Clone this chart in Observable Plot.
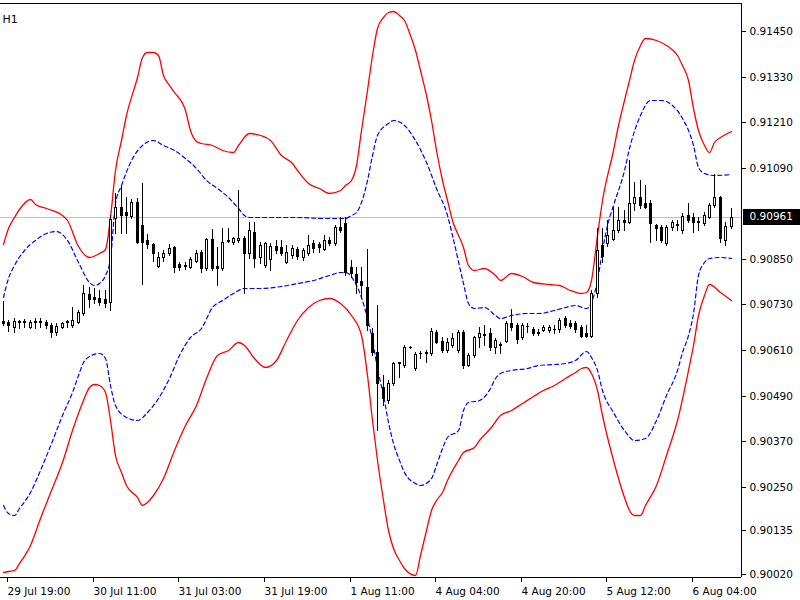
<!DOCTYPE html>
<html><head><meta charset="utf-8">
<script src="https://cdn.jsdelivr.net/npm/d3@7"></script>
<script src="https://cdn.jsdelivr.net/npm/@observablehq/plot@0.6"></script>
<style>
html,body{margin:0;padding:0;background:#fff;}
#chart svg{display:block;}
</style></head><body><div id="chart"></div>
<script>
// H1 candles, bar index 0 = 29 Jul 18:00
const open = [0.90686,0.90684,0.90671,0.90684,0.90684,0.90671,0.90684,0.90686,0.90684,0.90676,0.90657,0.90671,0.90684,0.90676,0.90684,0.90707,0.90757,0.90750,0.90747,0.90744,0.90736,0.90958,0.90987,0.90973,0.90963,0.91000,0.90939,0.90900,0.90889,0.90831,0.90855,0.90865,0.90881,0.90836,0.90834,0.90828,0.90844,0.90868,0.90826,0.90902,0.90831,0.90826,0.90897,0.90894,0.90900,0.90905,0.90865,0.90921,0.90855,0.90834,0.90850,0.90884,0.90881,0.90842,0.90860,0.90876,0.90855,0.90865,0.90892,0.90889,0.90876,0.90900,0.90892,0.90934,0.90944,0.90828,0.90810,0.90792,0.90776,0.90655,0.90605,0.90512,0.90478,0.90523,0.90576,0.90570,0.90618,0.90563,0.90602,0.90602,0.90602,0.90657,0.90634,0.90610,0.90623,0.90610,0.90657,0.90570,0.90597,0.90644,0.90649,0.90655,0.90618,0.90623,0.90634,0.90681,0.90676,0.90644,0.90673,0.90665,0.90657,0.90663,0.90663,0.90665,0.90665,0.90694,0.90681,0.90681,0.90671,0.90655,0.90647,0.90760,0.90886,0.90892,0.90902,0.90926,0.90952,0.90947,0.90997,0.91013,0.90997,0.90997,0.90939,0.90934,0.90892,0.90934,0.90939,0.90926,0.90965,0.90960,0.90947,0.90944,0.90960,0.90992,0.91013,0.90900,0.90936];
const high = [0.90739,0.90689,0.90694,0.90689,0.90692,0.90689,0.90694,0.90694,0.90689,0.90681,0.90681,0.90684,0.90689,0.90723,0.90715,0.90781,0.90776,0.90773,0.90768,0.90768,0.90965,0.91023,0.91042,0.91013,0.91008,0.91010,0.91050,0.90915,0.90892,0.90868,0.90873,0.90889,0.90884,0.90842,0.90842,0.90855,0.90873,0.90873,0.90905,0.90929,0.90881,0.90931,0.90931,0.90908,0.91031,0.90910,0.90947,0.90947,0.90894,0.90894,0.90892,0.90900,0.90900,0.90886,0.90886,0.90881,0.90879,0.90913,0.90900,0.90894,0.90913,0.90908,0.90939,0.90960,0.90960,0.90847,0.90828,0.90828,0.90876,0.90668,0.90728,0.90544,0.90531,0.90578,0.90578,0.90623,0.90620,0.90605,0.90607,0.90610,0.90668,0.90663,0.90644,0.90641,0.90655,0.90663,0.90663,0.90602,0.90647,0.90671,0.90676,0.90668,0.90641,0.90631,0.90686,0.90718,0.90681,0.90681,0.90681,0.90671,0.90665,0.90676,0.90676,0.90676,0.90694,0.90699,0.90689,0.90686,0.90676,0.90676,0.90768,0.90931,0.90931,0.90952,0.90987,0.90987,0.90979,0.91110,0.91052,0.91058,0.91044,0.91005,0.90942,0.90939,0.90939,0.90952,0.90952,0.90971,0.90997,0.90971,0.90960,0.90973,0.90997,0.91073,0.91015,0.90947,0.90984];
const low = [0.90676,0.90660,0.90657,0.90668,0.90671,0.90668,0.90668,0.90671,0.90668,0.90644,0.90649,0.90668,0.90671,0.90671,0.90681,0.90702,0.90723,0.90734,0.90728,0.90723,0.90715,0.90918,0.90918,0.90918,0.90958,0.90892,0.90784,0.90879,0.90844,0.90828,0.90844,0.90860,0.90815,0.90821,0.90823,0.90826,0.90842,0.90815,0.90821,0.90821,0.90781,0.90821,0.90894,0.90889,0.90894,0.90760,0.90852,0.90828,0.90839,0.90828,0.90821,0.90865,0.90860,0.90839,0.90852,0.90850,0.90847,0.90860,0.90868,0.90868,0.90873,0.90886,0.90886,0.90921,0.90807,0.90802,0.90760,0.90747,0.90663,0.90597,0.90399,0.90465,0.90470,0.90518,0.90539,0.90565,0.90615,0.90557,0.90589,0.90578,0.90597,0.90628,0.90605,0.90605,0.90618,0.90605,0.90563,0.90568,0.90591,0.90618,0.90623,0.90610,0.90602,0.90602,0.90631,0.90663,0.90628,0.90639,0.90657,0.90649,0.90649,0.90660,0.90657,0.90655,0.90657,0.90671,0.90668,0.90657,0.90644,0.90644,0.90644,0.90750,0.90842,0.90884,0.90900,0.90921,0.90926,0.90944,0.90979,0.90984,0.90984,0.90894,0.90900,0.90894,0.90886,0.90926,0.90926,0.90918,0.90947,0.90921,0.90926,0.90939,0.90958,0.90987,0.90894,0.90886,0.90931];
const close = [0.90681,0.90676,0.90686,0.90686,0.90686,0.90684,0.90686,0.90684,0.90676,0.90657,0.90673,0.90681,0.90686,0.90689,0.90710,0.90760,0.90744,0.90744,0.90736,0.90734,0.90955,0.90987,0.90965,0.90965,0.91000,0.90894,0.90894,0.90889,0.90865,0.90855,0.90865,0.90879,0.90828,0.90828,0.90831,0.90850,0.90865,0.90826,0.90902,0.90826,0.90826,0.90894,0.90900,0.90905,0.90905,0.90865,0.90926,0.90852,0.90886,0.90892,0.90884,0.90873,0.90865,0.90868,0.90879,0.90857,0.90873,0.90886,0.90879,0.90881,0.90900,0.90892,0.90934,0.90926,0.90815,0.90813,0.90789,0.90781,0.90676,0.90605,0.90523,0.90484,0.90523,0.90576,0.90578,0.90618,0.90617,0.90599,0.90602,0.90605,0.90660,0.90631,0.90610,0.90631,0.90641,0.90657,0.90570,0.90597,0.90644,0.90655,0.90652,0.90618,0.90636,0.90626,0.90681,0.90671,0.90639,0.90676,0.90674,0.90655,0.90656,0.90671,0.90671,0.90666,0.90689,0.90676,0.90673,0.90665,0.90647,0.90647,0.90760,0.90873,0.90857,0.90913,0.90926,0.90952,0.90947,0.90997,0.91013,0.90992,0.90987,0.90944,0.90931,0.90900,0.90934,0.90947,0.90942,0.90963,0.90952,0.90947,0.90950,0.90965,0.90992,0.91013,0.90905,0.90936,0.90961];

// Envelope lines read at selected bars
const redUpperBar = [0,1,2,3,5,6,8,11,12,14,16,18,19,20,21,22,23,25,26,27,28,29,30,31,32,34,35,36,37,39,41,43,44,46,48,50,52,54,55,57,59,61,63,64,65,66,67,68,69,70,71,72,73,74,75,76,77,78,79,80,81,82,83,84,86,87,88,90,92,93,95,97,99,102,104,106,108,109,110,111,112,114,115,116,117,118,119,120,122,124,126,127,128,129,130,131,132,133,134,135,136];
const redUpperPrice = [0.90889,0.90931,0.90960,0.90981,0.91008,0.90994,0.90984,0.90965,0.90952,0.90884,0.90855,0.90865,0.90876,0.90960,0.91084,0.91163,0.91229,0.91329,0.91382,0.91395,0.91395,0.91387,0.91334,0.91308,0.91289,0.91242,0.91189,0.91160,0.91155,0.91150,0.91137,0.91131,0.91150,0.91181,0.91176,0.91163,0.91123,0.91102,0.91084,0.91050,0.91037,0.91023,0.91031,0.91044,0.91058,0.91097,0.91189,0.91295,0.91387,0.91458,0.91487,0.91500,0.91503,0.91492,0.91479,0.91439,0.91400,0.91347,0.91281,0.91216,0.91137,0.91058,0.91005,0.90952,0.90881,0.90834,0.90821,0.90826,0.90807,0.90794,0.90813,0.90805,0.90789,0.90784,0.90781,0.90768,0.90760,0.90763,0.90794,0.90913,0.91005,0.91137,0.91202,0.91268,0.91321,0.91374,0.91413,0.91432,0.91426,0.91413,0.91387,0.91360,0.91321,0.91247,0.91189,0.91150,0.91131,0.91158,0.91171,0.91179,0.91187];
const blueUpperBar = [0,1,2,4,6,8,10,12,14,16,17,18,19,20,21,22,24,26,28,30,32,34,36,38,40,42,44,45,46,50,55,60,64,65,66,67,68,69,70,72,73,75,77,79,81,83,84,86,87,88,90,92,93,95,98,100,103,105,107,109,110,111,112,113,114,116,117,119,121,123,125,127,129,130,131,133,136];
const blueUpperPrice = [0.90750,0.90800,0.90834,0.90873,0.90900,0.90918,0.90923,0.90900,0.90842,0.90789,0.90781,0.90786,0.90807,0.90852,0.90997,0.91044,0.91110,0.91150,0.91163,0.91150,0.91137,0.91116,0.91089,0.91058,0.91037,0.91013,0.90984,0.90965,0.90960,0.90960,0.90960,0.90958,0.90958,0.90965,0.90973,0.91000,0.91058,0.91123,0.91176,0.91208,0.91216,0.91202,0.91163,0.91105,0.91037,0.90965,0.90913,0.90786,0.90734,0.90721,0.90723,0.90702,0.90694,0.90702,0.90707,0.90707,0.90715,0.90723,0.90728,0.90721,0.90736,0.90794,0.90873,0.90939,0.90992,0.91084,0.91142,0.91229,0.91268,0.91268,0.91255,0.91221,0.91150,0.91092,0.91076,0.91071,0.91073];
const blueLowerBar = [0,1,2,3,5,7,9,11,13,14,15,16,18,19,20,21,23,25,27,29,31,33,35,37,39,41,43,45,48,52,55,58,61,63,64,66,67,68,69,70,71,72,73,74,75,77,78,80,81,82,83,85,86,87,89,91,92,93,95,98,100,103,105,107,109,110,111,112,114,116,118,120,122,124,126,127,128,129,130,131,132,134,136];
const blueLowerPrice = [0.90202,0.90181,0.90175,0.90194,0.90236,0.90294,0.90365,0.90439,0.90499,0.90544,0.90578,0.90594,0.90602,0.90589,0.90518,0.90465,0.90433,0.90426,0.90447,0.90484,0.90536,0.90597,0.90644,0.90668,0.90723,0.90742,0.90760,0.90773,0.90773,0.90778,0.90786,0.90794,0.90807,0.90815,0.90815,0.90781,0.90750,0.90694,0.90636,0.90563,0.90491,0.90420,0.90365,0.90320,0.90289,0.90260,0.90254,0.90273,0.90307,0.90352,0.90381,0.90399,0.90452,0.90473,0.90478,0.90510,0.90536,0.90549,0.90557,0.90563,0.90570,0.90573,0.90576,0.90584,0.90607,0.90591,0.90557,0.90505,0.90447,0.90399,0.90373,0.90378,0.90426,0.90491,0.90557,0.90605,0.90649,0.90707,0.90807,0.90842,0.90852,0.90855,0.90852];
const redLowerBar = [0,1,2,3,5,7,9,11,13,15,16,17,18,19,20,21,22,23,25,26,27,28,30,32,34,36,38,40,42,44,45,47,49,51,53,55,57,59,61,63,65,67,68,69,70,71,72,73,74,75,77,78,79,80,81,82,83,85,86,88,89,91,93,95,97,99,101,103,105,107,108,109,110,111,112,114,116,117,118,119,120,122,124,126,128,129,130,131,132,134,136];
const redLowerPrice = [0.90025,0.90028,0.90031,0.90049,0.90096,0.90167,0.90241,0.90315,0.90399,0.90478,0.90512,0.90520,0.90518,0.90499,0.90426,0.90333,0.90289,0.90254,0.90223,0.90202,0.90210,0.90228,0.90273,0.90347,0.90412,0.90465,0.90536,0.90597,0.90610,0.90631,0.90623,0.90589,0.90565,0.90584,0.90636,0.90689,0.90723,0.90742,0.90747,0.90734,0.90702,0.90649,0.90544,0.90426,0.90320,0.90215,0.90136,0.90088,0.90057,0.90036,0.90017,0.90070,0.90136,0.90189,0.90215,0.90236,0.90268,0.90320,0.90341,0.90354,0.90373,0.90405,0.90439,0.90452,0.90470,0.90489,0.90505,0.90518,0.90536,0.90552,0.90563,0.90565,0.90549,0.90505,0.90439,0.90320,0.90223,0.90189,0.90175,0.90175,0.90202,0.90254,0.90333,0.90426,0.90557,0.90623,0.90702,0.90755,0.90784,0.90763,0.90742];

const xTickBar = [1,17,33,49,65,81,97,113,129];
const xTickLabels = ["29 Jul 19:00","30 Jul 11:00","31 Jul 03:00","31 Jul 19:00","1 Aug 11:00","4 Aug 04:00","4 Aug 20:00","5 Aug 12:00","6 Aug 04:00"];
const yTicks = [0.91450,0.91330,0.91210,0.91090,0.90850,0.90730,0.90610,0.90490,0.90370,0.90250,0.90135,0.90020];
const currentPrice = 0.90961;
const timeframe = "H1";

// tables
const candles = open.map((o, i) => ({i, open: o, high: high[i], low: low[i], close: close[i]}));
const series = (bars, prices) => bars.map((b, k) => ({i: b, v: prices[k]}));
const redUpper = series(redUpperBar, redUpperPrice);
const blueUpper = series(blueUpperBar, blueUpperPrice);
const blueLower = series(blueLowerBar, blueLowerPrice);
const redLower = series(redLowerBar, redLowerPrice);

const W = 800, H = 600, mL = 0, mR = 59, mT = 3, mB = 23;
const xDomain = [-0.5514, 137.955];
const yDomain = [0.9001211, 0.9152374];

const red = "#ff0000", blue = "#0000ff";
const plot = Plot.plot({
  width: W, height: H,
  marginLeft: mL, marginRight: mR, marginTop: mT, marginBottom: mB,
  style: {fontFamily: "'DejaVu Sans', sans-serif", fontSize: "10.5px", background: "#fff", color: "#000", overflow: "visible"},
  x: {domain: xDomain, round: true, label: null},
  y: {domain: yDomain, round: true, label: null},
  marks: [
    Plot.ruleY([currentPrice], {stroke: "#c0c0c0"}),
    Plot.line(redUpper, {x: "i", y: "v", stroke: red, strokeWidth: 1.3, curve: "monotone-x"}),
    Plot.line(redLower, {x: "i", y: "v", stroke: red, strokeWidth: 1.3, curve: "monotone-x"}),
    Plot.line(blueUpper, {x: "i", y: "v", stroke: blue, strokeWidth: 1.2, strokeDasharray: "4,3", curve: "monotone-x"}),
    Plot.line(blueLower, {x: "i", y: "v", stroke: blue, strokeWidth: 1.2, strokeDasharray: "4,3", curve: "monotone-x"}),
    Plot.ruleX(candles, {x: "i", y1: "high", y2: "low", stroke: "#000", strokeWidth: 1, insetBottom: -1}),
    Plot.ruleX(candles, {x: "i", y1: d => Math.max(d.open, d.close), y2: d => Math.min(d.open, d.close), stroke: "#000", strokeWidth: 3, insetBottom: -1}),
    Plot.ruleX(candles.filter(d => d.close - d.open > 0.00004), {x: "i", y1: "close", y2: "open", stroke: "#fff", strokeWidth: 1, insetTop: 1}),
    Plot.ruleY([yDomain[0], yDomain[1]], {stroke: "#000"}),
    Plot.ruleX([xDomain[1]], {stroke: "#000"}),
    Plot.axisX({ticks: xTickBar, tickFormat: d => xTickLabels[xTickBar.indexOf(d)], tickSize: 5, tickPadding: 5, textAnchor: "start", dx: -1, label: null}),
    Plot.axisY({anchor: "right", ticks: yTicks, tickFormat: d => d.toFixed(5), tickSize: 4, tickPadding: 4, label: null}),
    Plot.text([timeframe], {frameAnchor: "top-left", dx: 2, dy: 12, textAnchor: "start", fontSize: 11})
  ]
});
document.getElementById("chart").appendChild(plot);

// current price marker on the price axis
const yPix = plot.scale("y").apply(currentPrice);
const svg = d3.select(plot);
svg.append("rect").attr("x", W - mR + 2).attr("y", Math.round(yPix) - 8).attr("width", mR - 2).attr("height", 16).attr("fill", "#000");
svg.append("text").attr("x", W - mR + 8.5).attr("y", yPix).attr("dy", "0.32em").attr("fill", "#fff")
  .attr("text-anchor", "start")
  .attr("font-family", "'DejaVu Sans', sans-serif").attr("font-size", "10.5px").text(currentPrice.toFixed(5));
</script></body></html>
